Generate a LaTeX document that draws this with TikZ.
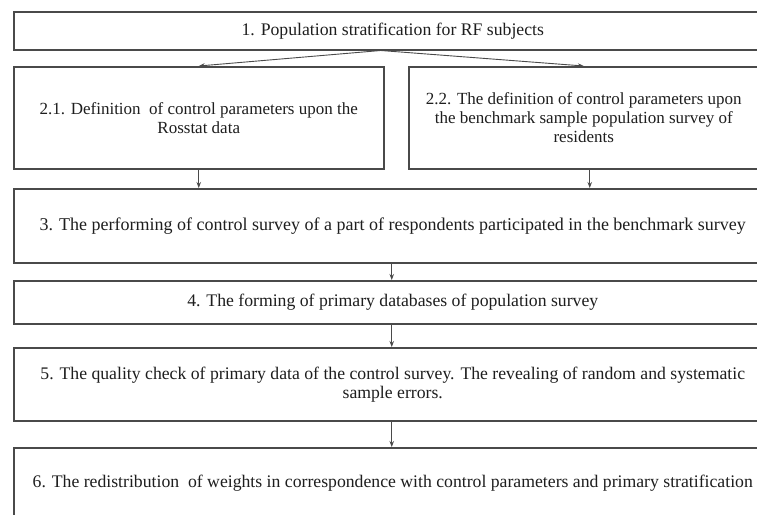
\documentclass[tikz,border=0pt]{standalone}
\usepackage{fontspec}
\setmainfont{Liberation Serif}
\usetikzlibrary{arrows.meta}
\definecolor{boxline}{HTML}{4A4A4A}
\definecolor{txt}{HTML}{1E1E1E}
\begin{document}
\begin{tikzpicture}[x=1pt,y=1pt,
  box/.style={draw=boxline, line width=1.5pt, anchor=north west, inner sep=0pt,
    align=center, text=txt, font=\fontsize{17.7}{19}\selectfont},
  smallbox/.style={box, font=\fontsize{17}{19}\selectfont},
  arr/.style={draw=boxline, line width=0.9pt, -{Stealth[length=6pt,width=4.5pt]}}]
\clip (0,0) rectangle (757,-514);
\fill[white] (0,0) rectangle (757,-514);
\node[box, minimum width=758pt, minimum height=38pt] (b1) at (13,-11)
  {1. Population stratification for RF subjects};
\node[smallbox, minimum width=370pt, minimum height=102pt] (b21) at (13,-66)
  {2.1. Definition\ \ of control parameters upon the\\Rosstat data};
\node[smallbox, minimum width=350pt, minimum height=102pt] (b22) at (408,-66)
  {2.2. The definition of control parameters upon\\the benchmark sample population survey of\\residents};
\node[box, minimum width=758pt, minimum height=74pt, font=\fontsize{18}{19}\selectfont] (b3) at (13,-188)
  {3. The performing of control survey of a part of respondents participated in the benchmark survey};
\node[box, minimum width=758pt, minimum height=43pt] (b4) at (13,-280)
  {4. The forming of primary databases of population survey};
\node[box, minimum width=758pt, minimum height=73pt] (b5) at (13,-347)
  {5. The quality check of primary data of the control survey. The revealing of random and systematic\\sample errors.};
\node[box, minimum width=758pt, minimum height=70pt] (b6) at (13,-447)
  {6. The redistribution\ \ of weights in correspondence with control parameters and primary stratification};
\draw[arr] ([xshift=-12pt]b1.south) -- (b21.north);
\draw[arr] ([xshift=-12pt]b1.south) -- (b22.north);
\draw[arr] (b21.south) -- (b21.south |- b3.north);
\draw[arr] ([xshift=6pt]b22.south) -- ([xshift=6pt]b22.south |- b3.north);
\draw[arr] ([xshift=-1pt]b3.south) -- ([xshift=-1pt]b4.north);
\draw[arr] ([xshift=-1pt]b4.south) -- ([xshift=-1pt]b5.north);
\draw[arr] ([xshift=-1pt]b5.south) -- ([xshift=-1pt]b6.north);
\end{tikzpicture}
\end{document}
